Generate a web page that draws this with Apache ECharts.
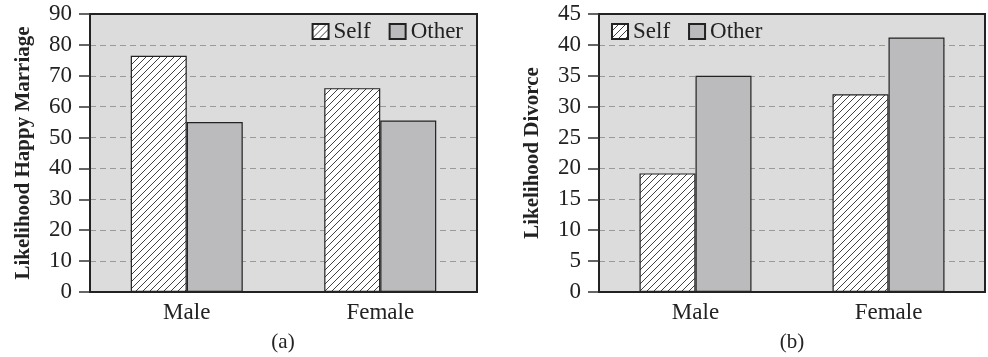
<!DOCTYPE html>
<html>
<head>
<meta charset="utf-8">
<script src="https://cdn.jsdelivr.net/npm/echarts@6/dist/echarts.min.js"></script>
<style>
html,body{margin:0;padding:0;background:#fff;}
#chart{width:988px;height:357px;}
</style>
</head>
<body>
<div id="chart"></div>
<script>
const categories = ['Male', 'Female'];
const seriesNames = ['Self', 'Other'];
const marriageSelf = [76.5, 66];
const marriageOther = [55, 55.5];
const divorceSelf = [19.2, 32];
const divorceOther = [35, 41.2];
const marriageTicks = {min: 0, max: 90, interval: 10};
const divorceTicks = {min: 0, max: 45, interval: 5};

function hatch() {
  const s = 7;
  const c = document.createElement('canvas');
  c.width = s; c.height = s;
  const g = c.getContext('2d');
  g.fillStyle = '#ffffff';
  g.fillRect(0, 0, s, s);
  g.strokeStyle = '#111';
  g.lineWidth = 0.8;
  g.beginPath();
  g.moveTo(-1, s + 1); g.lineTo(s + 1, -1);
  g.moveTo(-1, 1); g.lineTo(1, -1);
  g.moveTo(s - 1, s + 1); g.lineTo(s + 1, s - 1);
  g.stroke();
  return c;
}
const hatchPattern = {image: hatch(), repeat: 'repeat'};
const FONT = 'Liberation Serif';
const otherColor = '#bbbbbd';

function yAxis(gridIndex, name, t) {
  return {
    type: 'value', gridIndex, min: t.min, max: t.max, interval: t.interval,
    name, nameLocation: 'middle', nameGap: 56,
    nameTextStyle: {fontFamily: FONT, fontWeight: 'bold', fontSize: 21, color: '#222'},
    axisLine: {show: true, lineStyle: {color: '#222', width: 2}},
    axisTick: {show: true, length: 11, lineStyle: {color: '#333', width: 1.5}},
    axisLabel: {fontFamily: FONT, fontSize: 23, color: '#222', margin: 18},
    splitLine: {show: true, showMaxLine: false, showMinLine: false,
      lineStyle: {color: '#9a9a9a', width: 1, type: [6, 4]}}
  };
}
function yAxisRight(gridIndex, t) {
  return {
    type: 'value', gridIndex, position: 'right', min: t.min, max: t.max, interval: t.interval, z: 5,
    axisLine: {show: true, lineStyle: {color: '#222', width: 2}},
    axisTick: {show: false}, axisLabel: {show: false}, splitLine: {show: false}
  };
}
function xAxis(gridIndex) {
  return {
    type: 'category', gridIndex, data: categories,
    axisLine: {show: true, lineStyle: {color: '#222', width: 2}},
    axisTick: {show: false},
    axisLabel: {fontFamily: FONT, fontSize: 23, color: '#222', margin: 9}
  };
}
function xAxisTop(gridIndex) {
  return {
    type: 'category', gridIndex, data: categories, position: 'top', z: 5,
    axisLine: {show: true, lineStyle: {color: '#222', width: 2}},
    axisTick: {show: false}, axisLabel: {show: false}, splitLine: {show: false}
  };
}
function bar(name, data, idx, color) {
  return {
    type: 'bar', name, data, xAxisIndex: idx, yAxisIndex: idx,
    barWidth: 56, barGap: '0%',
    itemStyle: {color, borderColor: '#222', borderWidth: 1.2},
    emphasis: {disabled: true}
  };
}

const legendCommon = {data: seriesNames, top: 20, padding: 0, itemGap: 18, itemWidth: 16, itemHeight: 15, icon: 'rect',
  textStyle: {fontFamily: FONT, fontSize: 23, color: '#222', padding: [0, 0, 0, 0]}};

const chart = echarts.init(document.getElementById('chart'), null, {renderer: 'canvas'});
chart.setOption({
  animation: false,
  backgroundColor: '#ffffff',
  grid: [
    {left: 90, top: 14, width: 387, height: 278, show: true, backgroundColor: '#dcdcdd', borderColor: '#222', borderWidth: 2},
    {left: 599, top: 14, width: 386, height: 278, show: true, backgroundColor: '#dcdcdd', borderColor: '#222', borderWidth: 2}
  ],
  xAxis: [xAxis(0), xAxis(1), xAxisTop(0), xAxisTop(1)],
  yAxis: [
    yAxis(0, 'Likelihood Happy Marriage', marriageTicks),
    yAxis(1, 'Likelihood Divorce', divorceTicks),
    yAxisRight(0, marriageTicks),
    yAxisRight(1, divorceTicks)
  ],
  legend: [
    Object.assign({}, legendCommon, {right: 988 - 463}),
    Object.assign({}, legendCommon, {left: 611})
  ],
  title: [
    {text: '(a)', left: 283, top: 332, textAlign: 'center', padding: 0,
     textStyle: {fontFamily: FONT, fontSize: 21, fontWeight: 'normal', color: '#222'}},
    {text: '(b)', left: 792, top: 332, textAlign: 'center', padding: 0,
     textStyle: {fontFamily: FONT, fontSize: 21, fontWeight: 'normal', color: '#222'}}
  ],
  series: [
    bar('Self', marriageSelf, 0, hatchPattern),
    bar('Other', marriageOther, 0, otherColor),
    bar('Self', divorceSelf, 1, hatchPattern),
    bar('Other', divorceOther, 1, otherColor)
  ]
});
</script>
</body>
</html>
